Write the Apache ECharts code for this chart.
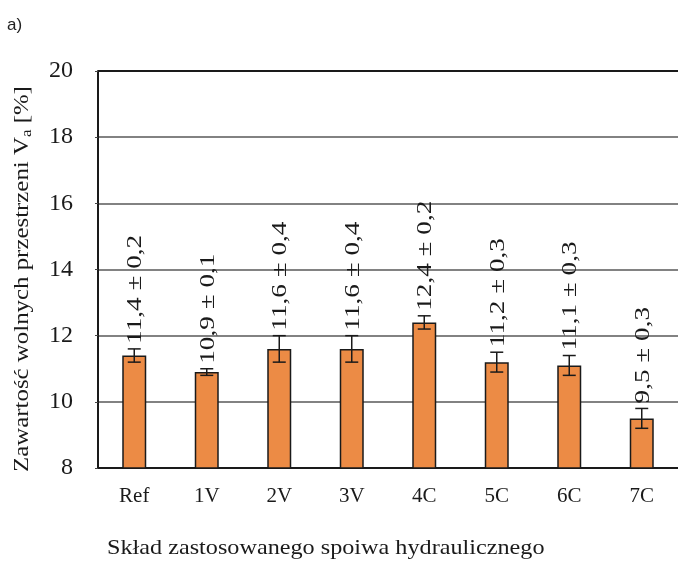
<!DOCTYPE html>
<html>
<head>
<meta charset="utf-8">
<script src="https://cdn.jsdelivr.net/npm/echarts@6/dist/echarts.min.js"></script>
<style>html,body{margin:0;padding:0;background:#fff}#c{width:678px;height:563px}</style>
</head>
<body>
<div id="c"></div>
<script>
var categories = ['Ref', '1V', '2V', '3V', '4C', '5C', '6C', '7C'];
var values = [11.4, 10.9, 11.6, 11.6, 12.4, 11.2, 11.1, 9.5];
var errors = [0.2, 0.1, 0.4, 0.4, 0.2, 0.3, 0.3, 0.3];
var yTicks = [8, 10, 12, 14, 16, 18, 20];

var SERIF = '"Liberation Serif", "Times New Roman", serif';
function fmt(v) { return v.toFixed(1).replace('.', ','); }

var chart = echarts.init(document.getElementById('c'), null, {renderer: 'canvas'});
var errData = values.map(function (v, i) { return [i, v - errors[i], v + errors[i], v, errors[i]]; });

chart.setOption({
  animation: false,
  backgroundColor: '#fff',
  grid: {left: 98, right: -1, top: 71, bottom: 95, containLabel: false},
  xAxis: {
    type: 'category',
    data: categories,
    axisLine: {lineStyle: {color: '#1a1a1a', width: 2}},
    axisTick: {show: false},
    axisLabel: {fontFamily: SERIF, fontSize: 21, color: '#1a1a1a', margin: 18}
  },
  yAxis: {
    type: 'value',
    min: yTicks[0], max: yTicks[yTicks.length - 1], interval: 2,
    axisLine: {show: true, lineStyle: {color: '#1a1a1a', width: 2}},
    axisTick: {show: true, length: 3, lineStyle: {color: '#444'}},
    axisLabel: {fontFamily: SERIF, fontSize: 24, color: '#1a1a1a', margin: 25},
    splitLine: {show: true, lineStyle: {color: ['#828282', '#828282', '#828282', '#828282', '#828282', '#828282', '#1a1a1a'], width: 2}}
  },
  series: [
    {
      type: 'bar',
      data: values,
      barWidth: 24,
      itemStyle: {color: '#EC8B45', borderColor: '#1a1a1a', borderWidth: 1.5}
    },
    {
      type: 'custom',
      data: errData,
      z: 10,
      renderItem: function (params, api) {
        var x = api.coord([api.value(0), 0])[0];
        var lo = api.coord([api.value(0), api.value(1)])[1];
        var hi = api.coord([api.value(0), api.value(2)])[1];
        var cap = 6.5;
        var st = {stroke: '#1a1a1a', lineWidth: 1.5};
        var v = api.value(3), e = api.value(4);
        return {
          type: 'group',
          children: [
            {type: 'line', shape: {x1: x, y1: lo, x2: x, y2: hi}, style: st},
            {type: 'line', shape: {x1: x - cap, y1: lo, x2: x + cap, y2: lo}, style: st},
            {type: 'line', shape: {x1: x - cap, y1: hi, x2: x + cap, y2: hi}, style: st},
            {type: 'text', x: x + 1.5, y: hi - 5, rotation: Math.PI / 2, scaleX: 1.36,
             style: {text: fmt(v) + ' \u00b1 ' + fmt(e), fontFamily: SERIF, fontSize: 20,
                     fill: '#1a1a1a', align: 'left', verticalAlign: 'middle'}}
          ]
        };
      }
    }
  ],
  graphic: [
    {type: 'text', left: 7, top: 17, style: {text: 'a)', fontFamily: 'Arial, "Liberation Sans", sans-serif', fontSize: 17, fill: '#222'}},
    {type: 'text', x: 22, y: 279, rotation: Math.PI / 2, scaleX: 1.13,
     style: {text: '{n|Zawartość wolnych przestrzeni V}{s|a}{n| [%]}', align: 'center', verticalAlign: 'middle',
             rich: {n: {fontFamily: SERIF, fontSize: 22, fill: '#1a1a1a', lineHeight: 26},
                    s: {fontFamily: SERIF, fontSize: 15, fill: '#1a1a1a', lineHeight: 26, verticalAlign: 'bottom', padding: [8, 0, 0, 0]}}}},
    {type: 'text', x: 107, y: 548, scaleX: 1.1,
     style: {text: 'Skład zastosowanego spoiwa hydraulicznego', fontFamily: SERIF, fontSize: 22, fill: '#1a1a1a', verticalAlign: 'middle'}}
  ]
});
</script>
</body>
</html>
